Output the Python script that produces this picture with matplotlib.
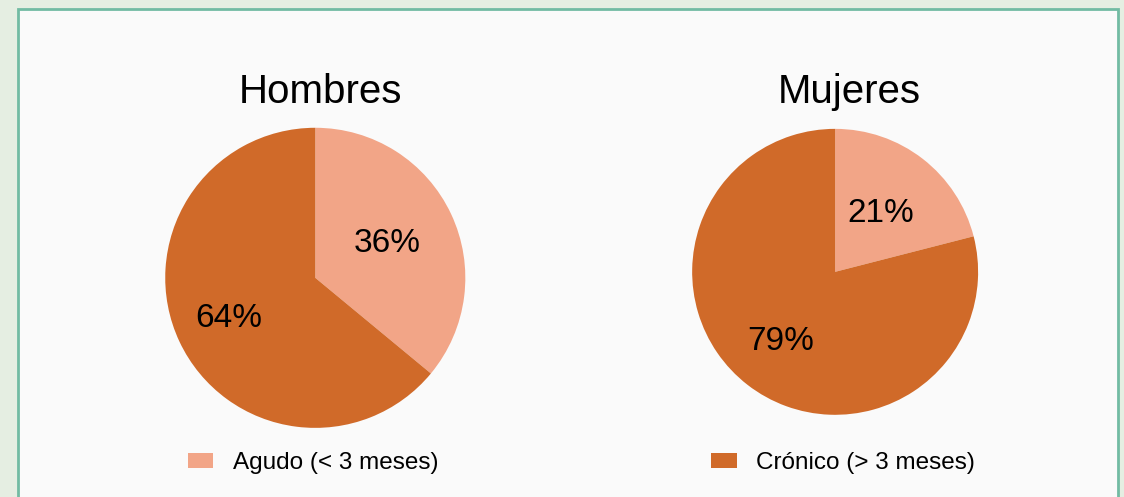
import matplotlib
matplotlib.use("Agg")
import matplotlib.pyplot as plt
import numpy as np
from matplotlib.patches import Rectangle

# data
groups = ["Hombres", "Mujeres"]
categories = ["Agudo (< 3 meses)", "Crónico (> 3 meses)"]
shares = [[36, 64], [21, 79]]
colors = ["#f2a587", "#d06a29"]

plt.rcParams["font.family"] = ["Liberation Sans", "DejaVu Sans"]
fig = plt.figure(figsize=(11.24, 4.97), dpi=100, facecolor="#e5eee2")

# inner panel with teal border
fig.patches.append(Rectangle((18 / 1124, -0.05), 1100 / 1124, 1 - 9 / 497 + 0.05,
                             transform=fig.transFigure, facecolor="#fafafa",
                             edgecolor="#72bba3", lw=2, zorder=-5))

# axes boxes (left, bottom, width, height) in figure fraction
boxes = [[0.147, 0.139, 0.267, 0.604], [0.6158, 0.1653, 0.2544, 0.5755]]
title_x = [0.285, 0.756]
legend_x = [0.167, 0.633]
label_dist = [[0.53, 0.64], [0.52, 0.62]]   # radial position of the % labels

for g, vals, box, tx, dists in zip(groups, shares, boxes, title_x, label_dist):
    ax = fig.add_axes(box)
    wedges, _, autotexts = ax.pie(vals, colors=colors, startangle=90, counterclock=False,
                                  autopct="%d%%",
                                  textprops=dict(fontsize=24, color="black"))
    for w, t, d in zip(wedges, autotexts, dists):
        a = np.deg2rad((w.theta1 + w.theta2) / 2)
        t.set_position((d * np.cos(a), d * np.sin(a)))
    ax.set_xlim(-1, 1); ax.set_ylim(-1, 1); ax.set_aspect("equal")
    ax.set_facecolor("none")
    fig.text(tx, 0.815, g, ha="center", va="center", fontsize=29)

# one legend entry under each pie
for i, lx in enumerate(legend_x):
    h = Rectangle((0, 0), 1, 1, facecolor=colors[i])
    fig.legend([h], [categories[i]], loc="center left", bbox_to_anchor=(lx, 0.068),
               frameon=False, fontsize=17.5, handlelength=1.05, handleheight=0.55,
               handletextpad=0.8, borderaxespad=0, borderpad=0)

fig.savefig("out.png", dpi=100, facecolor=fig.get_facecolor())
